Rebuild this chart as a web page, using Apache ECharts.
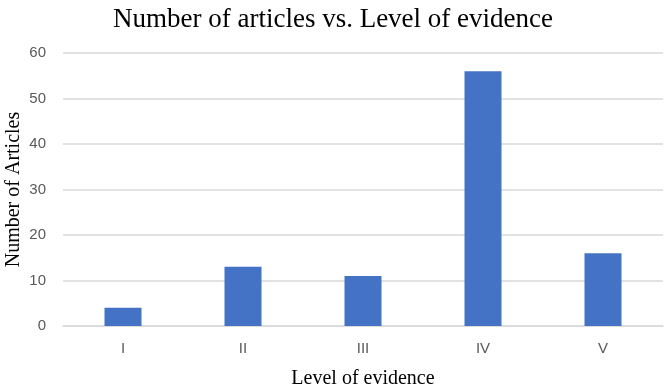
<!DOCTYPE html>
<html>
<head>
<meta charset="utf-8">
<script src="https://cdn.jsdelivr.net/npm/echarts@6/dist/echarts.min.js"></script>
<style>
  html, body { margin: 0; padding: 0; background: #fff; }
  #chart { width: 666px; height: 388px; }
</style>
</head>
<body>
<div id="chart"></div>
<script>
// level of evidence -> number of articles
var levels = ['I', 'II', 'III', 'IV', 'V'];
var articles = [4, 13, 11, 56, 16];
var yTicks = { min: 0, max: 60, step: 10 };

var serif = '"Liberation Serif", "DejaVu Serif", serif';
var sans = '"Liberation Sans", Arial, sans-serif';

var opt = {
  animation: false,
  title: {
    text: 'Number of articles vs. Level of evidence',
    left: 'center',
    top: 1,
    textStyle: { fontFamily: serif, fontSize: 27, fontWeight: 'normal', color: '#000' }
  },
  grid: { left: 63, right: 3, top: 53, bottom: 62, containLabel: false, outerBoundsMode: 'none' },
  xAxis: {
    type: 'category',
    data: levels,
    name: 'Level of evidence',
    nameLocation: 'middle',
    nameGap: 43,
    nameMoveOverlap: false,
    nameTextStyle: { fontFamily: serif, fontSize: 20, color: '#000' },
    axisLine: { lineStyle: { color: '#d9d9d9', width: 1.5 } },
    axisTick: { show: false },
    axisLabel: { fontFamily: sans, fontSize: 15, color: '#595959', margin: 15 }
  },
  yAxis: {
    type: 'value',
    min: yTicks.min,
    max: yTicks.max,
    interval: yTicks.step,
    name: 'Number of Articles',
    nameLocation: 'middle',
    nameGap: 39,
    nameMoveOverlap: false,
    nameTextStyle: { fontFamily: serif, fontSize: 20, color: '#000' },
    axisLine: { show: false },
    axisTick: { show: false },
    axisLabel: { fontFamily: sans, fontSize: 15, color: '#595959', margin: 17 },
    splitLine: { lineStyle: { color: '#d9d9d9', width: 1.5 } }
  },
  series: [
    {
      type: 'bar',
      data: articles,
      barWidth: 37,
      itemStyle: { color: '#4472c4' }
    }
  ]
};

var chart = echarts.init(document.getElementById('chart'));
chart.setOption(opt);
</script>
</body>
</html>
